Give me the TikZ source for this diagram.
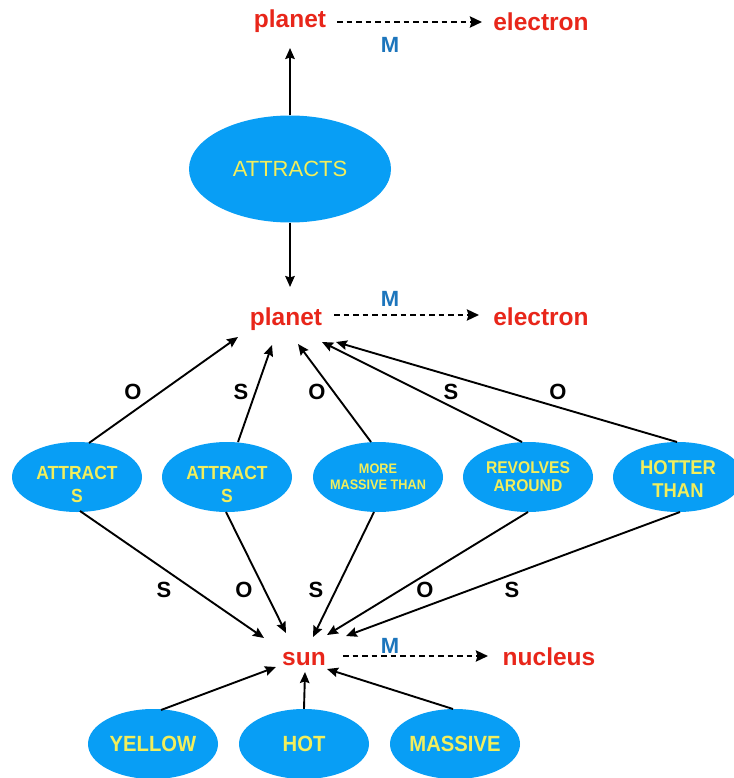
\documentclass[tikz,border=0pt]{standalone}
\usepackage{fontspec}
\setmainfont{Liberation Sans}
\newfontfamily\condsans[FakeStretch=0.92]{Liberation Sans}
\usetikzlibrary{shapes.geometric,arrows.meta}

\definecolor{bubblefill}{RGB}{8,158,245}
\definecolor{bubbleink}{RGB}{242,238,92}
\definecolor{conceptred}{RGB}{232,38,26}
\definecolor{mapblue}{RGB}{28,117,188}

\tikzset{
  bubble/.style={ellipse, fill=bubblefill, draw=none, inner sep=0pt,
    minimum width=130pt, minimum height=70pt},
  bubbletext/.style={text=bubbleink, align=center, inner sep=0pt,
    font=\condsans\bfseries\fontsize{19}{23}\selectfont},
  concept/.style={text=conceptred, anchor=base, inner sep=0pt,
    font=\bfseries\fontsize{24.5}{29}\selectfont},
  maplabel/.style={text=mapblue, anchor=base, inner sep=0pt,
    font=\bfseries\fontsize{22}{26}\selectfont},
  role/.style={anchor=base, inner sep=0pt,
    font=\bfseries\fontsize{22}{26}\selectfont},
  link/.style={line width=1.9pt,
    -{Stealth[length=11pt,width=9.5pt,inset=1.5pt]}},
  mapping/.style={line width=2.8pt, dash pattern=on 5.5pt off 4pt,
    -{Stealth[length=12pt,width=11pt,inset=1.5pt]}},
}

\begin{document}
\begin{tikzpicture}[x=1pt,y=-1pt]
\fill[white] (0,0) rectangle (733,778);
\useasboundingbox (0,0) rectangle (733,778);

% ---------- top analogy: planet -> electron ----------
\node[concept] (p1) at (290,28) {planet};
\node[concept] (el1) at (541,31) {electron};
\node[maplabel] (m1) at (390,53) {M};
\draw[mapping] ([shift={(47,-6)}]p1.base) -- ([shift={(-59,-9)}]el1.base);

\node[ellipse, fill=bubblefill, inner sep=0pt, minimum width=202pt,
      minimum height=107pt, text=bubbleink,
      font=\fontsize{22}{26}\selectfont] (att) at (290,169) {ATTRACTS};

% ---------- middle analogy ----------
\node[concept] (p2) at (286,325) {planet};
\node[concept] (el2) at (541,325) {electron};
\node[maplabel] (m2) at (390,306) {M};
\draw[mapping] ([shift={(48,-10)}]p2.base) -- ([shift={(-62,-10)}]el2.base);

\draw[link] (att.north) -- ([shift={(0,20)}]p1.base);
\draw[link] (att.south) -- ([shift={(4,-38)}]p2.base);

% ---------- relation bubbles ----------
\node[bubble] (r1) at (77,477) {};
\node[bubble] (r2) at (227,477) {};
\node[bubble] (r3) at (378,477) {};
\node[bubble] (r4) at (528,477) {};
\node[bubble] (r5) at (678,477) {};

\node[bubbletext] (t1) at ([shift={(0,7)}]r1.center) {ATTRACT\\S};
\node[bubbletext] (t2) at ([shift={(0,7)}]r2.center) {ATTRACT\\S};
\node[bubbletext, font=\condsans\bfseries\fontsize{13.8}{16}\selectfont]
     (t3) at (r3.center) {MORE\\MASSIVE THAN};
\node[bubbletext, font=\condsans\bfseries\fontsize{17}{18}\selectfont]
     (t4) at (r4.center) {REVOLVES\\AROUND};
\node[bubbletext, font=\condsans\bfseries\fontsize{20}{23}\selectfont]
     (t5) at ([shift={(0,2)}]r5.center) {HOTTER\\THAN};

% links up to planet
\draw[link] ([shift={(12,-34)}]r1.center) -- ([shift={(-48,12)}]p2.base);
\draw[link] ([shift={(11,-35)}]r2.center) -- ([shift={(-14,20)}]p2.base);
\draw[link] ([shift={(-7,-35)}]r3.center) -- ([shift={(12,19)}]p2.base);
\draw[link] ([shift={(-6,-35)}]r4.center) -- ([shift={(36,17)}]p2.base);
\draw[link] ([shift={(-1,-35)}]r5.center) -- ([shift={(50,17)}]p2.base);

\node[role] (o1) at (133,399) {O};
\node[role] (s1) at (241,399) {S};
\node[role] (o2) at (317,399) {O};
\node[role] (s2) at (451,399) {S};
\node[role] (o3) at (558,399) {O};

% ---------- bottom analogy: sun -> nucleus ----------
\node[concept] (sun) at (304,665) {sun};
\node[concept] (nuc) at (549,665) {nucleus};
\node[maplabel] (m3) at (390,653) {M};
\draw[mapping] ([shift={(39,-9)}]sun.base) -- ([shift={(-61,-9)}]nuc.base);

% links down to sun
\draw[link] ([shift={(3,34)}]r1.center) -- ([shift={(-40,-27)}]sun.base);
\draw[link] ([shift={(-1,35)}]r2.center) -- ([shift={(-18,-32)}]sun.base);
\draw[link] ([shift={(-4,35)}]r3.center) -- ([shift={(9,-28)}]sun.base);
\draw[link] ([shift={(0,35)}]r4.center) -- ([shift={(23,-30)}]sun.base);
\draw[link] ([shift={(2,35)}]r5.center) -- ([shift={(42,-29)}]sun.base);

\node[role] (s3) at (164,597) {S};
\node[role] (o4) at (244,597) {O};
\node[role] (s4) at (316,597) {S};
\node[role] (o5) at (425,597) {O};
\node[role] (s5) at (512,597) {S};

% ---------- attribute bubbles ----------
\node[bubble] (yel) at (153,744) {};
\node[bubble] (hot) at (304,744) {};
\node[bubble] (mas) at (455,744) {};
\node[bubbletext, font=\condsans\bfseries\fontsize{22}{26}\selectfont] at (yel.center) {YELLOW};
\node[bubbletext, font=\condsans\bfseries\fontsize{22}{26}\selectfont] at (hot.center) {HOT};
\node[bubbletext, font=\condsans\bfseries\fontsize{22}{26}\selectfont] at (mas.center) {MASSIVE};

\draw[link] ([shift={(8,-34)}]yel.center) -- ([shift={(-28,2)}]sun.base);
\draw[link] (hot.north) -- ([shift={(1,7)}]sun.base);
\draw[link] ([shift={(-2,-35)}]mas.center) -- ([shift={(23,4)}]sun.base);
\end{tikzpicture}
\end{document}
